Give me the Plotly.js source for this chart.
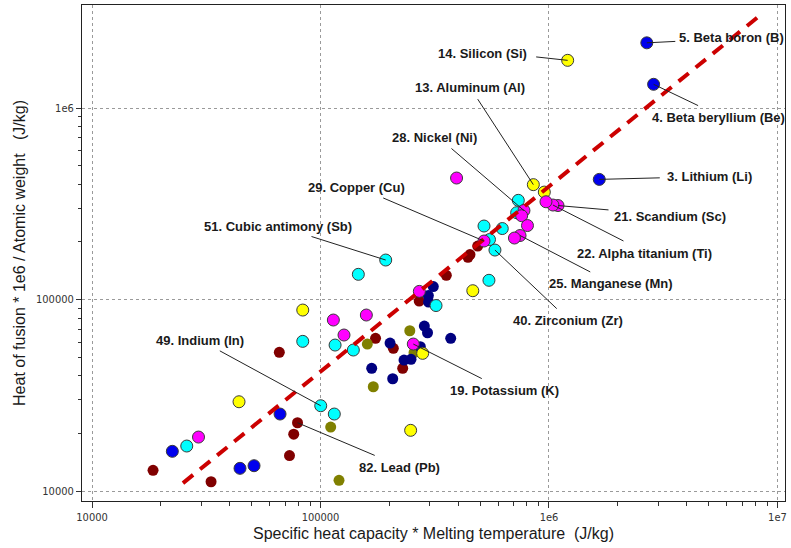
<!DOCTYPE html>
<html>
<head>
<meta charset="utf-8">
<script src="https://cdn.plot.ly/plotly-3.0.1.min.js"></script>
<style>html,body{margin:0;padding:0;background:#fff;}#chart{width:791px;height:548px;}</style>
</head>
<body>
<div id="chart"></div>
<script>
// ---- data (x = specific heat capacity * melting temperature, y = heat of fusion * 1e6 / atomic weight), J/kg ----
const blueX = [2.68e6, 2.87e6, 1.66e6, 22460, 66500, 44420, 51170];
const blueY = [2.19e6, 1.33e6, 4.24e5, 16120, 25240, 13140, 13560];

const yellowX = [1.207e6, 8.54e5, 9.54e5, 4.64e5, 83600, 2.80e5, 43980, 2.48e5];
const yellowY = [1.774e6, 3.98e5, 3.64e5, 1.112e5, 88130, 52360, 29260, 20750];

const magentaX = [1.095e6, 1.041e6, 7.77e5, 7.47e5, 5.195e5, 2.547e5, 9.70e5, 7.59e5, 8.05e5, 7.06e5, 3.94e5, 2.707e5, 1.138e5, 1.587e5, 1.267e5, 29240];
const magentaY = [3.096e5, 3.115e5, 2.916e5, 2.159e5, 2.021e5, 58560, 3.24e5, 2.739e5, 2.434e5, 2.095e5, 4.31e5, 1.103e5, 78160, 83000, 65270, 19140];

const cyanX = [5.80e5, 1.929e5, 1.002e5, 7.34e5, 7.22e5, 5.195e5, 6.245e5, 5.49e5, 5.46e5, 1.464e5, 3.203e5, 83590, 1.158e5, 1.392e5, 1.149e5, 25970];
const cyanY = [1.813e5, 1.608e5, 27890, 3.296e5, 2.84e5, 2.42e5, 2.348e5, 2.057e5, 1.26e5, 1.354e5, 93030, 60480, 57850, 54490, 25240, 17180];

const darkredX = [79320, 76330, 73150, 66020, 18490, 33180, 1.741e5, 2.083e5, 2.289e5, 2.704e5, 3.553e5, 4.42e5, 4.51e5, 4.875e5];
const darkredY = [22730, 19800, 15320, 53000, 12830, 11180, 62700, 55620, 43720, 98220, 1.338e5, 1.661e5, 1.718e5, 1.903e5];

const oliveX = [2.459e5, 1.603e5, 2.566e5, 1.702e5, 1.108e5, 1.205e5];
const oliveY = [68720, 58560, 52760, 35040, 21590, 11370];

const navyX = [3.116e5, 2.965e5, 2.97e5, 2.847e5, 2.94e5, 3.714e5, 2.015e5, 2.734e5, 2.32e5, 2.489e5, 1.675e5, 2.07e5];
const navyY = [1.169e5, 1.049e5, 97040, 72710, 67080, 62700, 59270, 56680, 48310, 48720, 43720, 38580];

const trendX = [25000, 8.2e6];
const trendY = [11000, 2.98e6];

const xTickVals = [1e4, 1e5, 1e6, 1e7];
const xTickText = ["10000", "100000", "1e6", "1e7"];
const yTickVals = [1e4, 1e5, 1e6];
const yTickText = ["10000", "100000", "1e6"];

// labels: [text, series, index]
const labelText = ["5. Beta boron (B)", "4. Beta beryllium (Be)", "3. Lithium (Li)", "14. Silicon (Si)", "13. Aluminum (Al)",
  "21. Scandium (Sc)", "22. Alpha titanium (Ti)", "28. Nickel (Ni)", "25. Manganese (Mn)", "29. Copper (Cu)",
  "19. Potassium (K)", "40. Zirconium (Zr)", "51. Cubic antimony (Sb)", "49. Indium (In)", "82. Lead (Pb)"];
const labelSeries = ["blue", "blue", "blue", "yellow", "yellow", "magenta", "magenta", "magenta", "magenta", "magenta",
  "magenta", "cyan", "cyan", "cyan", "darkred"];
const labelIndex = [0, 1, 2, 0, 1, 0, 1, 2, 3, 4, 5, 0, 1, 2, 0];

// ---- layout of labels (pixel offsets from the point) ----
const labelLayout = [
  {tx: 30, ty: -1.5, lx: 84.5, ly: -5},
  {tx: 46, ty: 22, lx: 64.6, ly: 33.4},
  {tx: 62, ty: -1.6, lx: 110, ly: -2.6},
  {tx: -33, ty: -3.6, lx: -84.7, ly: -7},
  {tx: -56.6, ty: -87, lx: -63.6, ly: -96.7},
  {tx: 52, ty: 4.5, lx: 112, ly: 11.2},
  {tx: 72, ty: 36.7, lx: 91.5, ly: 48.3},
  {tx: -74, ty: -63.3, lx: -89.5, ly: -73.3},
  {tx: 71.7, ty: 37.2, lx: 91, ly: 47.8},
  {tx: -102.3, ty: -43.7, lx: -127.3, ly: -53.3},
  {tx: 70, ty: 35.3, lx: 91.2, ly: 46},
  {tx: 63.3, ty: 60, lx: 73.3, ly: 70},
  {tx: -75.7, ty: -24, lx: -107.7, ly: -33.3},
  {tx: -102.4, ty: -55.7, lx: -121.2, ly: -65},
  {tx: 78.7, ty: 33.3, lx: 102.4, ly: 44.6}
];

const seriesData = {
  blue: [blueX, blueY], yellow: [yellowX, yellowY], magenta: [magentaX, magentaY],
  cyan: [cyanX, cyanY], darkred: [darkredX, darkredY], olive: [oliveX, oliveY], navy: [navyX, navyY]
};

function pts(x, y, color, outlined) {
  return {
    x: x, y: y, type: 'scatter', mode: 'markers', showlegend: false, hoverinfo: 'x+y',
    marker: {color: color, size: outlined ? 12 : 11,
      line: outlined ? {color: '#3a3a3a', width: 1} : {color: color, width: 0}}
  };
}

const traces = [
  pts(darkredX, darkredY, '#800000', false),
  pts(oliveX, oliveY, '#808000', false),
  pts(navyX, navyY, '#000080', false),
  pts(blueX, blueY, '#0000ee', true),
  pts(yellowX, yellowY, '#ffff00', true),
  pts(cyanX, cyanY, '#00ffff', true),
  pts(magentaX, magentaY, '#ff00ff', true),
  {x: trendX, y: trendY, type: 'scatter', mode: 'lines', showlegend: false, hoverinfo: 'skip',
   line: {color: '#cc0000', width: 4, dash: '13px,9px'}}
];

function minorVals(lo, hi) {
  const v = [];
  for (let d = lo; d < hi; d++) for (let m = 2; m <= 9; m++) v.push(m * Math.pow(10, d));
  return v;
}

const annotations = [];
labelText.forEach((t, i) => {
  const s = seriesData[labelSeries[i]];
  const px = s[0][labelIndex[i]], py = s[1][labelIndex[i]];
  const L = labelLayout[i];
  annotations.push({
    x: Math.log10(px), y: Math.log10(py), xref: 'x', yref: 'y', text: '',
    showarrow: true, arrowhead: 0, arrowwidth: 1, arrowcolor: '#222',
    ax: L.tx, ay: L.ty, standoff: 0, startstandoff: 0
  });
  annotations.push({
    x: Math.log10(px), y: Math.log10(py), xref: 'x', yref: 'y', text: '<b>' + t + '</b>',
    showarrow: false, xshift: L.lx, yshift: -L.ly, xanchor: 'center', yanchor: 'middle',
    font: {family: 'Liberation Sans, Arial, sans-serif', size: 13, color: '#1a1a1a'}
  });
});

const tickFont = {family: 'Liberation Sans Narrow, DejaVu Sans Condensed, Arial Narrow, sans-serif', size: 11, color: '#333'};

const layout = {
  width: 791, height: 548,
  margin: {l: 82, r: 6, t: 5, b: 47, pad: 0},
  paper_bgcolor: '#ffffff', plot_bgcolor: '#ffffff',
  showlegend: false,
  xaxis: {
    type: 'log', range: [3.956, 7.033], autorange: false,
    tickvals: xTickVals, ticktext: xTickText, tickfont: tickFont,
    ticks: 'outside', ticklen: 6, tickcolor: '#333', tickwidth: 1,
    showgrid: true, gridcolor: '#9a9a9a', gridwidth: 1, griddash: '3px,3px',
    zeroline: false, showline: true, mirror: true, linecolor: '#222', linewidth: 1,
    minor: {tickvals: minorVals(4, 7), ticks: 'outside', ticklen: 4, tickcolor: '#333', showgrid: false},
    title: {text: 'Specific heat capacity * Melting temperature\u00A0\u00A0(J/kg)', standoff: 4,
      font: {family: 'Liberation Sans, Arial, sans-serif', size: 16, color: '#1a1a1a'}},
    automargin: false
  },
  yaxis: {
    type: 'log', range: [3.948, 6.538], autorange: false,
    tickvals: yTickVals, ticktext: yTickText, tickfont: tickFont,
    ticks: 'outside', ticklen: 5, tickcolor: '#333', tickwidth: 1,
    showgrid: true, gridcolor: '#9a9a9a', gridwidth: 1, griddash: '3px,3px',
    zeroline: false, showline: true, mirror: true, linecolor: '#222', linewidth: 1,
    minor: {tickvals: minorVals(4, 6), ticks: 'outside', ticklen: 3, tickcolor: '#333', showgrid: false},
    title: {text: 'Heat of fusion * 1e6 / Atomic weight\u00A0\u00A0\u00A0(J/kg)', standoff: 6,
      font: {family: 'Liberation Sans, Arial, sans-serif', size: 16, color: '#1a1a1a'}},
    automargin: false
  },
  annotations: annotations
};

Plotly.newPlot('chart', traces, layout, {displayModeBar: false, staticPlot: true});
</script>
</body>
</html>
